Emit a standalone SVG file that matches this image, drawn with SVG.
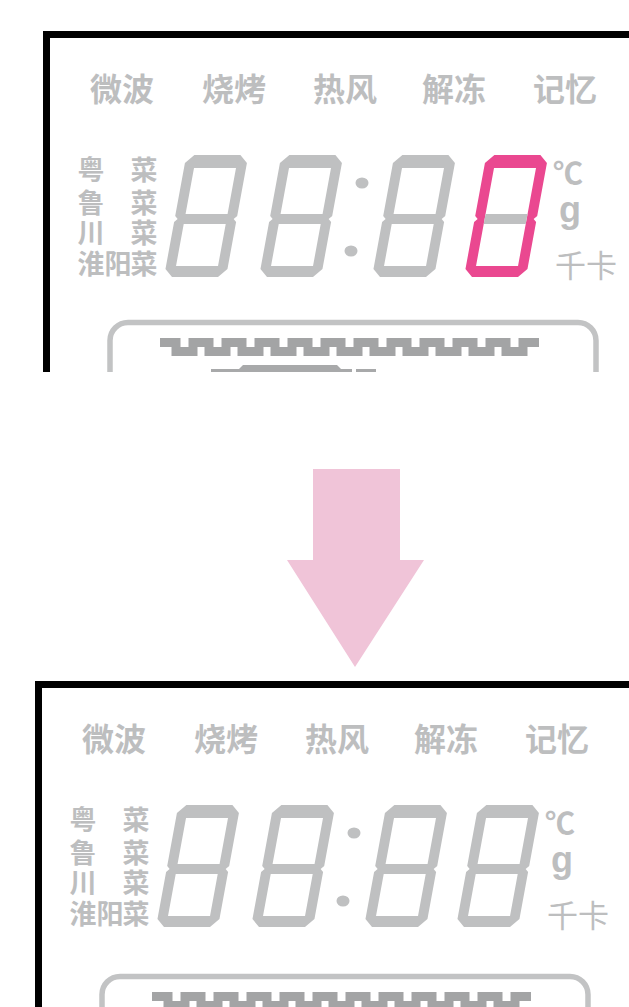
<svg xmlns="http://www.w3.org/2000/svg" xmlns:xlink="http://www.w3.org/1999/xlink" width="629" height="1007" viewBox="0 0 629 1007">
<defs>
<style>
.lbl{font-family:"Noto Sans CJK SC","Noto Sans CJK JP",sans-serif;font-weight:700;fill:#bdbebf;text-anchor:middle}
.top{font-size:32px}
.side{font-size:27px}
.unit{font-family:"Noto Sans CJK SC",sans-serif;fill:#bdbebf;text-anchor:middle}
.g{font-family:"Liberation Sans",Arial,sans-serif;font-weight:700;font-size:36px;fill:#bdbebf;text-anchor:middle}
.seg{fill:#bfc0c1}
.pink{fill:#ea4890}
.frame{fill:none;stroke:#000;stroke-width:7;stroke-linejoin:miter}
.lcd{fill:none;stroke:#c2c3c4;stroke-width:5.5}
.zig{fill:none;stroke:#a3a4a5;stroke-width:9;stroke-linejoin:miter;stroke-linecap:butt}
.bar{fill:#a8a9aa}
</style>
<path id="d8" class="seg" fill-rule="evenodd" d="M8,-122H54L62,-114V-61L59,-58L62,-55V-8L54,0H8L0,-8V-55L3,-58L0,-61V-114Z M10,-109H52V-63H10Z M10,-53H52V-11H10Z"/>
<clipPath id="clipTop"><rect x="0" y="0" width="629" height="372"/></clipPath>
<g id="panelBase">
  <path class="frame" d="M46.5,400V34.5H640"/>
  <text class="lbl top" y="101"><tspan x="122">微波</tspan><tspan x="234">烧烤</tspan><tspan x="345">热风</tspan><tspan x="454">解冻</tspan><tspan x="565">记忆</tspan></text>
  <text class="lbl side" y="180"><tspan x="91">粤</tspan><tspan x="144">菜</tspan></text>
  <text class="lbl side" y="213"><tspan x="91">鲁</tspan><tspan x="144">菜</tspan></text>
  <text class="lbl side" y="243"><tspan x="91">川</tspan><tspan x="144">菜</tspan></text>
  <text class="lbl side" y="274"><tspan x="91">淮</tspan><tspan x="118">阳</tspan><tspan x="144">菜</tspan></text>
  <ellipse class="seg" cx="362" cy="183" rx="6.5" ry="5.5"/>
  <ellipse class="seg" cx="351" cy="251" rx="6.5" ry="5.5"/>
  <text class="unit" x="568" y="184" style="font-size:30px;font-weight:700">℃</text>
  <text class="g" x="570" y="222">g</text>
  <text class="unit" x="586" y="277" style="font-size:31px">千卡</text>
</g>
<g id="lcdBase">
  <path class="lcd" d="M110,400V340.5A18,18 0 0 1 128,322.5H578A18,18 0 0 1 596,340.5V400"/>
  <path class="zig" d="M160,342.5h16v9h17v-9h16v9h17v-9h16v9h17v-9h16v9h17v-9h16v9h17v-9h16v9h17v-9h16v9h17v-9h16v9h17v-9h16v9h17v-9h16v9h17v-9h16v9h17v-9h16"/>
  <path class="bar" d="M211,372V369H239L243,365H337L341,369H352V372Z M356,369H376V372H356Z"/>
</g>
</defs>

<g id="top-panel" clip-path="url(#clipTop)">
  <use xlink:href="#panelBase"/>
  <use xlink:href="#lcdBase"/>
  <use xlink:href="#d8" transform="translate(164,277) skewX(-10.4)"/>
  <use xlink:href="#d8" transform="translate(259,277) skewX(-10.4)"/>
  <use xlink:href="#d8" transform="translate(372,277) skewX(-10.4)"/>
  <g transform="translate(464,277) skewX(-10.4)">
    <path class="pink" fill-rule="evenodd" d="M8,-122H54L62,-114V-61L59,-58L62,-55V-8L54,0H8L0,-8V-55L3,-58L0,-61V-114Z M10,-109H52V-11H10Z"/>
    <path class="seg" d="M10,-63H52V-53H10Z"/>
  </g>
</g>

<g id="connectors">
  <path id="arrow" fill="#f0c4d8" d="M313,469H400V560H424L355,667L287,560H313Z"/>
</g>

<g id="bottom-panel" transform="translate(-8,650)">
  <use xlink:href="#panelBase"/>
  <use xlink:href="#lcdBase" transform="translate(0,4)"/>
  <use xlink:href="#d8" transform="translate(164,277) skewX(-10.4)"/>
  <use xlink:href="#d8" transform="translate(259,277) skewX(-10.4)"/>
  <use xlink:href="#d8" transform="translate(372,277) skewX(-10.4)"/>
  <use xlink:href="#d8" transform="translate(464,277) skewX(-10.4)"/>
</g>
</svg>
